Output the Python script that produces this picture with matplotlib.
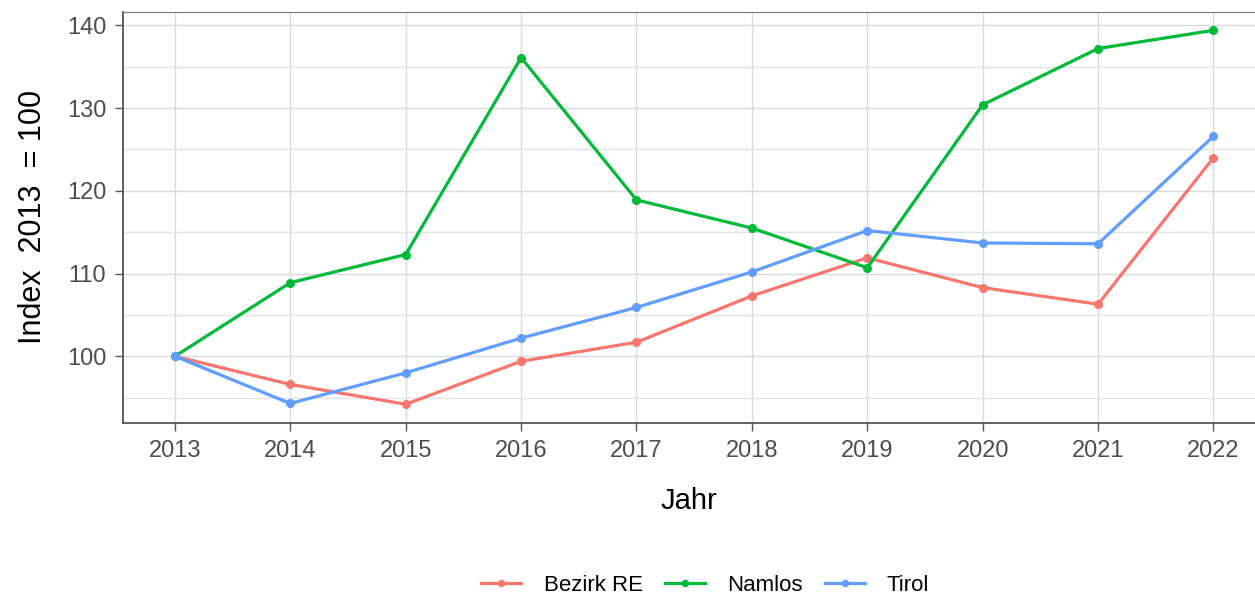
import matplotlib

matplotlib.use("Agg")
import matplotlib.pyplot as plt
from matplotlib.ticker import MultipleLocator

plt.rcParams["font.family"] = ["Liberation Sans", "DejaVu Sans"]

years = [2013, 2014, 2015, 2016, 2017, 2018, 2019, 2020, 2021, 2022]
bezirk_re = [100.0, 96.6, 94.2, 99.4, 101.7, 107.3, 111.9, 108.3, 106.3, 124.0]
namlos = [100.0, 108.9, 112.3, 136.1, 118.9, 115.5, 110.7, 130.4, 137.2, 139.4]
tirol = [100.0, 94.3, 98.0, 102.2, 105.9, 110.2, 115.2, 113.7, 113.6, 126.6]

series = [
    ("Bezirk RE", bezirk_re, "#F8766D"),
    ("Namlos", namlos, "#00BA38"),
    ("Tirol", tirol, "#619CFF"),
]

fig = plt.figure(figsize=(12.55, 5.97), dpi=100)
ax = fig.add_axes([0.098, 0.2915, 0.902, 0.689])

for name, vals, col in series:
    ax.plot(years, vals, "o-", color=col, lw=2.3, ms=5.5, label=name)

ax.set_xlim(2012.55, 2022.36)
ax.set_ylim(91.94, 141.66)
ax.set_xticks(years)
ax.yaxis.set_major_locator(MultipleLocator(10))
ax.yaxis.set_minor_locator(MultipleLocator(5))
ax.grid(which="major", color="#d9d9d9", lw=1.0)
ax.grid(which="minor", axis="y", color="#e3e3e3", lw=1.0)
ax.set_axisbelow(True)

for side in ("left", "bottom"):
    ax.spines[side].set_color("#555555")
    ax.spines[side].set_linewidth(1.3)
ax.spines["top"].set_color("#777777")
ax.spines["right"].set_visible(False)
ax.tick_params(axis="both", which="major", length=6, width=1, color="#555555",
               labelsize=17, labelcolor="#4d4d4d", pad=6)
ax.tick_params(axis="y", which="minor", length=0)

ax.set_xlabel("Jahr", fontsize=21, labelpad=18)
ax.set_ylabel("Index  2013  = 100", fontsize=22, labelpad=14)

fig.legend(loc="center", bbox_to_anchor=(0.562, 0.02), ncol=3, frameon=False,
           fontsize=16, handlelength=1.8, handletextpad=1.0, columnspacing=1.0,
           markerscale=0.8, bbox_transform=fig.transFigure)

fig.savefig("out.png", dpi=100)
